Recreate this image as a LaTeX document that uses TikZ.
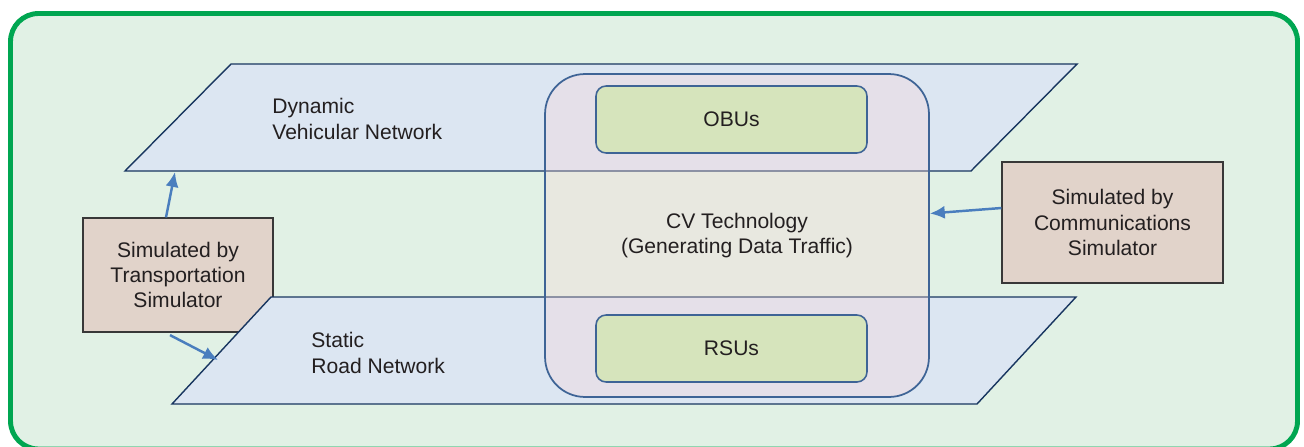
\documentclass[tikz,border=0pt]{standalone}
\usepackage{fontspec}
\setmainfont{Liberation Sans}
\usepackage{tikz}
\usetikzlibrary{arrows.meta}

\definecolor{frameGreen}{RGB}{0,166,81}
\definecolor{bgGreen}{RGB}{225,241,229}
\definecolor{planeBlue}{RGB}{220,230,242}
\definecolor{planeLine}{RGB}{24,54,96}
\definecolor{techPink}{RGB}{250,212,214}
\definecolor{techLine}{RGB}{62,100,150}
\definecolor{unitGreen}{RGB}{214,228,188}
\definecolor{simBrown}{RGB}{225,211,202}
\definecolor{simLine}{RGB}{56,56,56}
\definecolor{arrowBlue}{RGB}{74,126,190}
\definecolor{textGray}{RGB}{35,31,32}

\begin{document}
\begin{tikzpicture}[x=0.02cm,y=-0.02cm,>={Latex[length=8.5pt,width=7.5pt]},
  every node/.style={text=textGray,font=\fontsize{12}{14.4}\selectfont},
  layer plane/.style={fill=planeBlue,draw=planeLine,line width=0.8pt},
  layer label/.style={anchor=west,align=left,inner sep=0pt},
  sim node/.style={rectangle,draw=simLine,fill=simBrown,line width=0.7pt,align=center},
  unit node/.style={rectangle,rounded corners=0.2cm,draw=techLine,fill=unitGreen,line width=0.9pt,minimum width=5.42cm,minimum height=1.34cm},
  tech node/.style={rectangle,rounded corners=0.8cm,draw=techLine,line width=1pt,fill=techPink,fill opacity=0.3,text opacity=1,align=center,minimum width=7.68cm,minimum height=6.46cm},
  link/.style={->,draw=arrowBlue,line width=1.4pt}]

  \useasboundingbox (0,0) rectangle (1304,446);
  \draw[frameGreen,fill=bgGreen,line width=2.8pt,rounded corners=0.56cm] (10.5,13.5) rectangle (1297.5,449);

  % upper layer
  \draw[layer plane] (231,64) -- (1077,64) -- (971,171) -- (125,171) -- cycle;
  \node[layer label] (dyn) at (272,119) {Dynamic\\Vehicular Network};
  \coordinate (dyn in) at (175,172);

  \node[sim node,minimum width=3.8cm,minimum height=2.28cm] (simT) at (178,275) {Simulated by\\Transportation\\Simulator};

  % lower layer
  \draw[layer plane] (271,297) -- (1076,297) -- (977,404) -- (172,404) -- cycle;
  \node[layer label] (road) at (311,353) {Static\\Road Network};
  \coordinate (road in) at (218,360);

  \node[tech node] (cv) at (737,235.5) {CV Technology\\(Generating Data Traffic)};
  \node[unit node] (obu) at (731.5,119.5) {OBUs};
  \node[unit node] (rsu) at (731.5,348.5) {RSUs};

  \node[sim node,minimum width=4.42cm,minimum height=2.42cm] (simC) at (1112.5,222.5) {Simulated by\\Communications\\Simulator};

  \draw[link] ([xshift=-0.24cm]simT.north) -- (dyn in);
  \draw[link] ([xshift=-0.16cm,yshift=-0.05cm]simT.south) -- (road in);
  \draw[link] ([yshift=0.29cm]simC.west) -- ([yshift=0.44cm]cv.east);

\end{tikzpicture}
\end{document}
